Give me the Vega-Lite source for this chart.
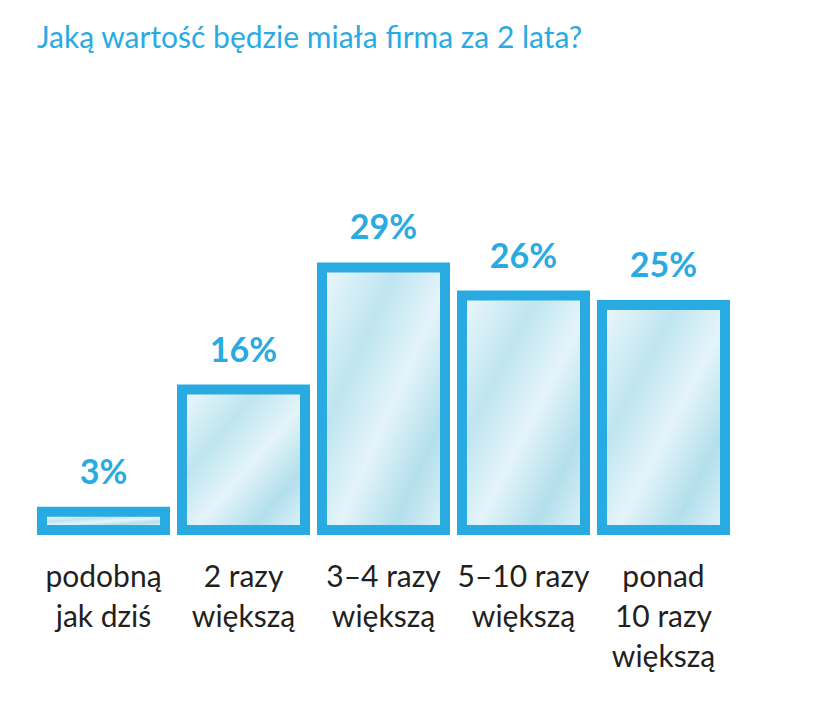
{
  "$schema": "https://vega.github.io/schema/vega-lite/v6.json",
  "autosize": {"type": "none"},
  "padding": {"left": 37, "top": 112, "right": 83, "bottom": 182},
  "width": 693,
  "height": 423,
  "background": "white",
  "title": {
    "text": "Jaką wartość będzie miała firma za 2 lata?",
    "anchor": "start",
    "frame": "group",
    "baseline": "alphabetic",
    "offset": 34,
    "font": "Lato",
    "fontSize": 30,
    "fontWeight": "normal",
    "color": "#29abe2"
  },
  "config": {
    "view": {"stroke": null},
    "font": "Lato"
  },
  "data": {
    "values": [
      {"kategoria": "podobną|jak dziś", "udzial": 0.03},
      {"kategoria": "2 razy|większą", "udzial": 0.16},
      {"kategoria": "3–4 razy|większą", "udzial": 0.29},
      {"kategoria": "5–10 razy|większą", "udzial": 0.26},
      {"kategoria": "ponad|10 razy|większą", "udzial": 0.25}
    ]
  },
  "encoding": {
    "x": {
      "field": "kategoria",
      "type": "nominal",
      "sort": null,
      "title": null,
      "scale": {"paddingInner": 0.05, "paddingOuter": 0},
      "axis": {
        "orient": "bottom",
        "domain": false,
        "ticks": false,
        "labelAngle": 0,
        "labelExpr": "split(datum.label, '|')",
        "labelFont": "Lato",
        "labelFontSize": 30,
        "labelColor": "#231f20",
        "labelLineHeight": 40,
        "labelBaseline": "top",
        "labelPadding": 27,
        "labelLimit": 300
      }
    },
    "y": {
      "field": "udzial",
      "type": "quantitative",
      "scale": {"domain": [0, 0.45], "nice": false},
      "axis": null
    }
  },
  "layer": [
    {
      "mark": {"type": "bar", "color": "#29abe2", "cornerRadius": 0}
    },
    {
      "mark": {
        "type": "bar",
        "width": 113,
        "yOffset": 10,
        "y2Offset": -10,
        "color": {
          "gradient": "linear",
          "x1": 0, "y1": 0, "x2": 1, "y2": 1,
          "stops": [
            {"offset": 0, "color": "#e8f6fa"},
            {"offset": 0.3, "color": "#bfe5f0"},
            {"offset": 0.55, "color": "#e4f4f9"},
            {"offset": 0.8, "color": "#b3dfec"},
            {"offset": 1, "color": "#d9f0f6"}
          ]
        }
      },
      "encoding": {
        "y2": {"datum": 0}
      }
    },
    {
      "mark": {
        "type": "text",
        "baseline": "alphabetic",
        "dy": -23,
        "font": "Lato",
        "fontSize": 34,
        "fontWeight": "bold",
        "color": "#29abe2"
      },
      "encoding": {
        "text": {"field": "udzial", "type": "quantitative", "format": ".0%"}
      }
    }
  ]
}
